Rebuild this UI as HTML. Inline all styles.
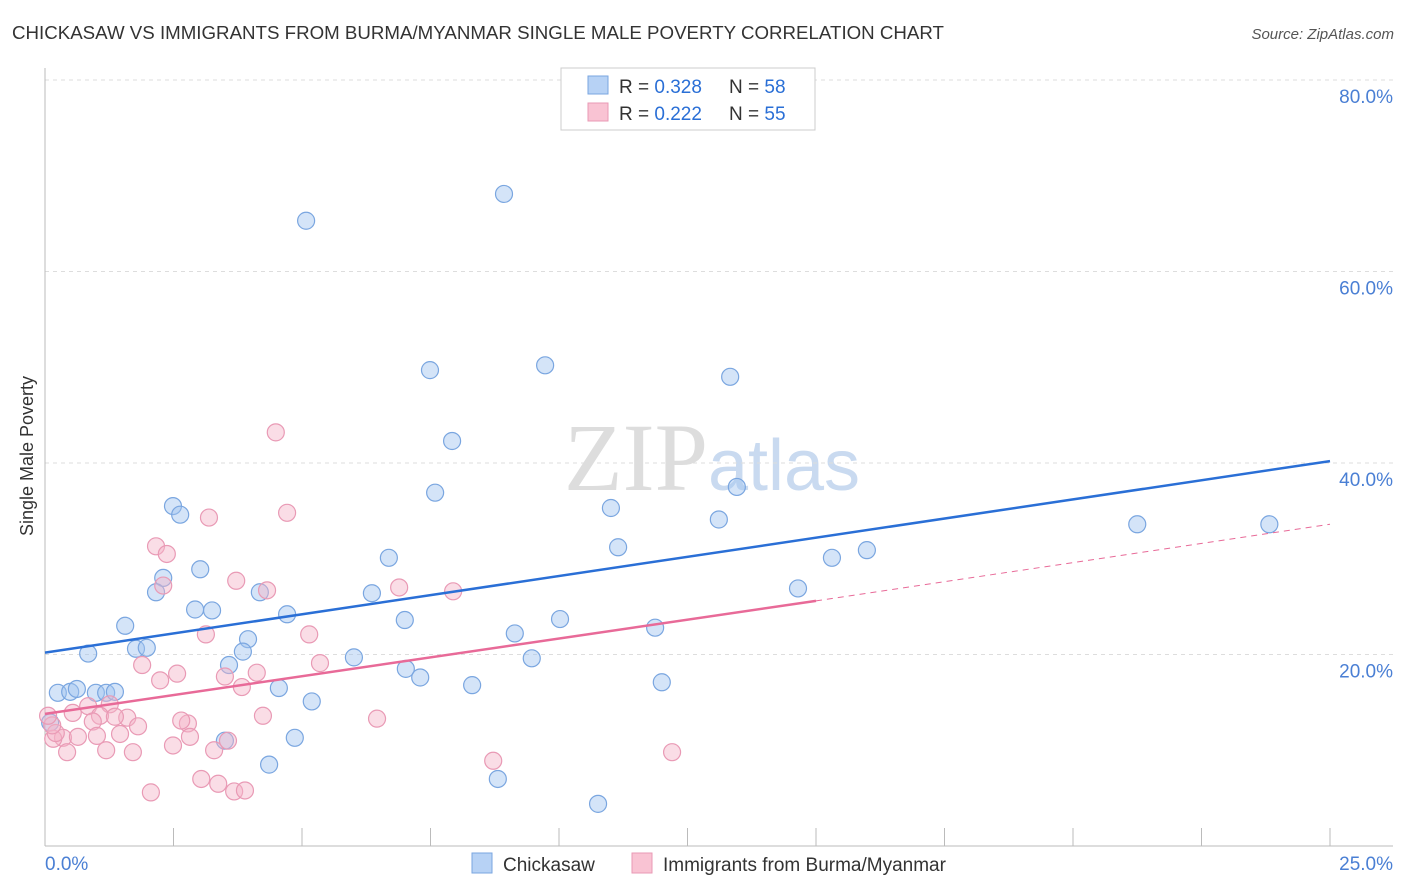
<!DOCTYPE html>
<html><head><meta charset="utf-8"><style>
body{margin:0;background:#fff;font-family:"Liberation Sans",sans-serif}
svg{display:block}
</style></head><body>
<svg id="c" width="1406" height="892">
<text x="12" y="39" font-size="18" fill="#333" textLength="932" lengthAdjust="spacingAndGlyphs">CHICKASAW VS IMMIGRANTS FROM BURMA/MYANMAR SINGLE MALE POVERTY CORRELATION CHART</text>
<text x="1394" y="39" font-size="15" fill="#555" text-anchor="end" font-style="italic">Source: ZipAtlas.com</text>
<text x="33" y="456" font-size="18" fill="#333" text-anchor="middle" transform="rotate(-90 33 456)">Single Male Poverty</text>
<text x="712" y="490" font-size="96" fill="#ddd" text-anchor="middle" font-family="Liberation Serif,serif">ZIP<tspan fill="#c9daf0" font-family="Liberation Sans,sans-serif" font-size="72">atlas</tspan></text>
<g id="grid"></g><g id="marks"></g>
<g>
<rect x="561" y="68" width="254" height="62" fill="#fff" stroke="#ccc"/>
<rect x="588" y="76" width="20" height="18" fill="#b7d2f5" stroke="#7aa6e0"/>
<rect x="588" y="103" width="20" height="18" fill="#f9c3d3" stroke="#e99ab5"/>
<text x="619" y="93" font-size="19" fill="#333">R = <tspan fill="#2a6fd6">0.328</tspan></text>
<text x="729" y="93" font-size="19" fill="#333">N = <tspan fill="#2a6fd6">58</tspan></text>
<text x="619" y="120" font-size="19" fill="#333">R = <tspan fill="#2a6fd6">0.222</tspan></text>
<text x="729" y="120" font-size="19" fill="#333">N = <tspan fill="#2a6fd6">55</tspan></text>
</g>
<g>
<rect x="472" y="853" width="20" height="20" fill="#b7d2f5" stroke="#7aa6e0"/>
<text x="503" y="871" font-size="19" fill="#333">Chickasaw</text>
<rect x="632" y="853" width="20" height="20" fill="#f9c3d3" stroke="#e99ab5"/>
<text x="663" y="871" font-size="19" fill="#333">Immigrants from Burma/Myanmar</text>
</g>
</svg>
<script>
const xTicks=[0,25];
const yTicks=[20,40,60,80];
const bluePts=[[5.08,65.3],[8.93,68.1],[7.49,49.7],[9.73,50.2],[13.33,49.0],[7.92,42.3],[7.59,36.9],[13.46,37.5],[11.01,35.3],[13.11,34.1],[2.49,35.5],[2.63,34.6],[11.15,31.2],[15.31,30.1],[15.99,30.9],[21.25,33.6],[23.82,33.6],[6.69,30.1],[2.30,28.0],[2.16,26.5],[3.02,28.9],[4.18,26.5],[6.36,26.4],[14.65,26.9],[2.92,24.7],[3.25,24.6],[4.71,24.2],[7.00,23.6],[10.02,23.7],[1.56,23.0],[3.95,21.6],[9.14,22.2],[11.87,22.8],[1.77,20.6],[1.98,20.7],[3.85,20.3],[0.84,20.1],[6.01,19.7],[9.47,19.6],[3.58,18.9],[7.02,18.5],[7.30,17.6],[8.31,16.8],[12.00,17.1],[0.25,16.0],[0.49,16.1],[0.62,16.4],[0.99,16.0],[1.19,16.0],[1.36,16.1],[4.55,16.5],[5.19,15.1],[0.1,12.9],[3.50,11.0],[4.86,11.3],[4.36,8.5],[8.81,7.0],[10.76,4.4]];
const pinkPts=[[4.49,43.2],[4.71,34.8],[3.19,34.3],[2.16,31.3],[2.37,30.5],[3.72,27.7],[2.30,27.2],[4.32,26.7],[6.89,27.0],[7.94,26.6],[3.13,22.1],[5.14,22.1],[1.89,18.9],[2.57,18.0],[5.35,19.1],[4.12,18.1],[3.50,17.7],[2.24,17.3],[3.83,16.6],[0.54,13.9],[0.84,14.6],[1.26,14.8],[1.60,13.4],[1.07,13.6],[0.93,13.0],[1.36,13.5],[1.81,12.5],[1.46,11.7],[1.01,11.5],[0.35,11.3],[0.16,11.2],[0.64,11.4],[2.78,12.8],[2.65,13.1],[2.82,11.4],[4.24,13.6],[6.46,13.3],[2.49,10.5],[3.29,10.0],[3.56,11.0],[1.19,10.0],[1.71,9.8],[0.43,9.8],[0.21,11.8],[12.20,9.8],[8.72,8.9],[3.04,7.0],[3.37,6.5],[3.68,5.7],[3.89,5.8],[2.06,5.6],[0.14,12.6],[0.06,13.6]];
const blueTrend=[[0,20.2],[25,40.2]];
const pinkTrend=[[0,13.8],[15,25.6],[25,33.6]];
const X=v=>45+v/25*1285, Y=v=>846-v*9.575;
const NS='http://www.w3.org/2000/svg';
const g=document.getElementById('grid'), m=document.getElementById('marks');
function mk(p,tag,a){const e=document.createElementNS(NS,tag);for(const k in a)e.setAttribute(k,a[k]);p.appendChild(e);return e;}
yTicks.forEach(t=>{const l=mk(g,'line',{x1:45,x2:1393,y1:Y(t),y2:Y(t),stroke:'#ddd','stroke-dasharray':'4 4'});


const tx=mk(g,'text',{x:1393,y:Y(t)+23,'font-size':19,fill:'#4a7fd4','text-anchor':'end'});tx.textContent=t.toFixed(1)+'%';

});
mk(g,'line',{x1:45,x2:1393,y1:846,y2:846,stroke:'#bbb'});
mk(g,'line',{x1:45,x2:45,y1:68,y2:846,stroke:'#bbb'});
for(let i=1;i<=10;i++){const x=X(i*2.5);mk(g,'line',{x1:x,x2:x,y1:828,y2:846,stroke:'#bbb'});}
xTicks.forEach((t,i)=>{const tx=mk(g,'text',{x:i?1393:45,y:870,'font-size':19,fill:'#4a7fd4','text-anchor':i?'end':'start'});tx.textContent=t.toFixed(1)+'%';

});
bluePts.forEach(p=>{const c=mk(m,'circle',{cx:X(p[0]),cy:Y(p[1]),r:8.5,fill:'rgba(160,196,240,0.45)',stroke:'#7aa6e0','stroke-width':1.2});

});
pinkPts.forEach(p=>{const c=mk(m,'circle',{cx:X(p[0]),cy:Y(p[1]),r:8.5,fill:'rgba(245,180,200,0.45)',stroke:'#e99ab5','stroke-width':1.2});

});
const bl=mk(m,'line',{x1:X(blueTrend[0][0]),y1:Y(blueTrend[0][1]),x2:X(blueTrend[1][0]),y2:Y(blueTrend[1][1]),stroke:'#2a6fd6','stroke-width':2.5});


const pl=mk(m,'line',{x1:X(pinkTrend[0][0]),y1:Y(pinkTrend[0][1]),x2:X(pinkTrend[1][0]),y2:Y(pinkTrend[1][1]),stroke:'#e86a98','stroke-width':2.5});


const pd=mk(m,'line',{x1:X(pinkTrend[1][0]),y1:Y(pinkTrend[1][1]),x2:X(pinkTrend[2][0]),y2:Y(pinkTrend[2][1]),stroke:'#e86a98','stroke-width':1,'stroke-dasharray':'6 5'});


</script>
</body></html>
